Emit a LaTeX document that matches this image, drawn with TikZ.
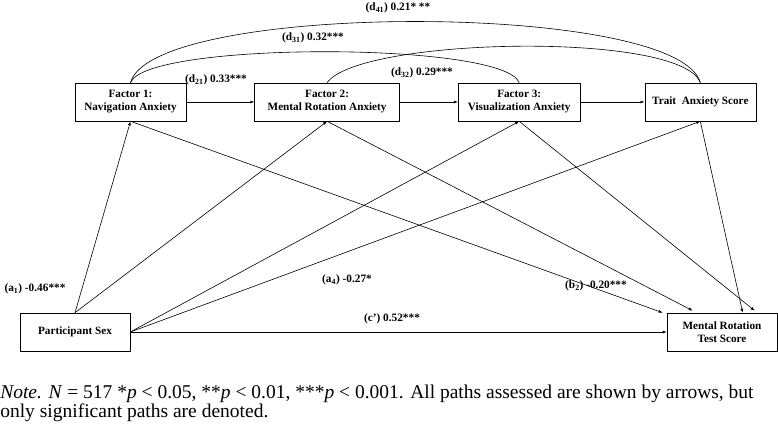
\documentclass[tikz,border=0pt]{standalone}
\usepackage{fontspec}
\setmainfont{Liberation Serif}
\usetikzlibrary{positioning,arrows.meta}

\begin{document}
\begin{tikzpicture}[x=1pt, y=1pt, semithick, node distance = {58pt}, >={Latex[length=4pt,width=3pt]},
	main/.style = {draw, rectangle, minimum height=38pt, align=center, inner sep=1pt, font=\fontsize{11.2}{13}\selectfont\bfseries},
	path/.style = {inner sep=1pt, font=\fontsize{11.3}{12}\selectfont\bfseries}]
	\useasboundingbox (0,0) rectangle (778,425);
	\node[main, minimum width=111pt] (1) at (130.5,323) {Factor 1:\\Navigation Anxiety};
	\node[main, minimum width=145pt] (2) [right=68pt of 1] {Factor 2:\\Mental Rotation Anxiety};
	\node[main, minimum width=122pt] (3) [right=of 2] {Factor 3:\\Visualization Anxiety};
	\node[main, minimum width=111pt] (4) [right=64pt of 3] {Trait~ Anxiety Score};
	\node[main, minimum width=110pt] (sex) at (75,93) {Participant Sex};
	\node[main, minimum width=110pt] (mrt) at (722,93) {Mental Rotation\\Test Score};
	
	\draw (1.north) to [out=75, in=105, looseness=0.38] (4.north);
	\draw (1.north) to [out=70, in=110, looseness=0.29] (3.north);
	\draw (2.north) to [out=55, in=110, looseness=0.38] (4.north);
	
	\draw[->] (1) -- (2);
	\draw[->] (2) -- (3);
	\draw[->] (3) -- (4);
	\draw[->] (sex.north) -- (1.south);
	\draw[->] (sex.north) -- (2.south);
	\draw[->] (sex.east) -- (3.south);
	\draw[->] (sex.east) -- (4.south);
	\draw[->] (sex) -- (mrt);
	\draw[->] (1.south) -- ([xshift=-4pt]mrt.north west);
	\draw[->] (2.south) -- ([xshift=26pt, yshift=2pt]mrt.north west);
	\draw[->] (4.south) -- ([xshift=76pt]mrt.north west);
	\draw[->] (3.south) -- ([xshift=88pt, yshift=2pt]mrt.north west);
	
	\node[path] (d41) at (398,417) {(d\textsubscript{41}) 0.21*~**};
	\node[path] (d31) at (313,387) {(d\textsubscript{31}) 0.32***};
	\node[path] (d21) at (216,345) {(d\textsubscript{21}) 0.33***};
	\node[path] (d32) at (422,352) {(d\textsubscript{32}) 0.29***};
	\node[path] (a1) at (35,136) {(a\textsubscript{1}) -0.46***};
	\node[path] (a4) at (347,145) {(a\textsubscript{4}) -0.27*};
	\node[path] (b2) at (596,139) {(b\textsubscript{2}) -0.20***};
	\node[path] (c) at (392,106) {(c') 0.52***};
	
	\node[anchor=base west, inner sep=0pt, align=left, font=\fontsize{19.5}{19}\selectfont] (note) at (0,7) {\textit{Note.} \textit{N} = 517 *\textit{p} < 0.05, **\textit{p} < 0.01, ***\textit{p} < 0.001. All paths assessed are shown by arrows, but\\only significant paths are denoted.};
\end{tikzpicture}
\end{document}
